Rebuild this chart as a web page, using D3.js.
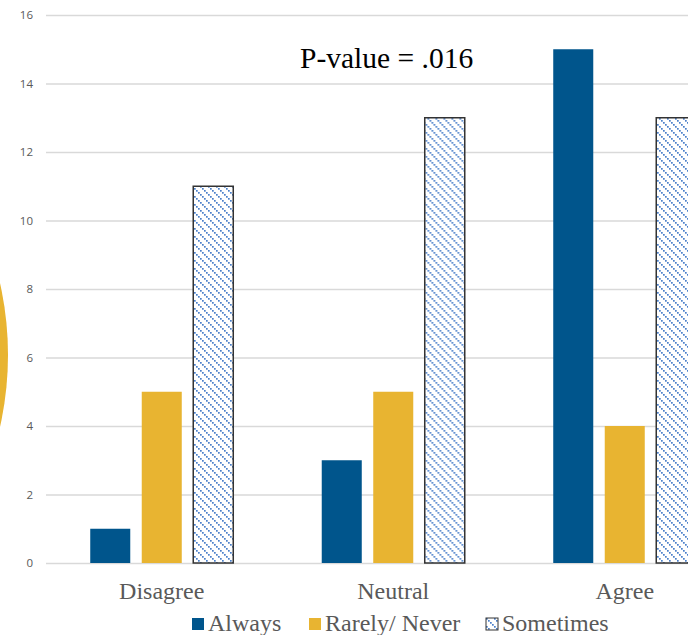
<!DOCTYPE html>
<html>
<head>
<meta charset="utf-8">
<title>Chart</title>
<script src="https://cdn.jsdelivr.net/npm/d3@7/dist/d3.min.js"></script>
<style>
  body { margin: 0; background: #fff; }
  svg { display: block; }
</style>
</head>
<body>
<script>
// data
var categories = ['Disagree', 'Neutral', 'Agree'];
var seriesNames = ['Always', 'Rarely/ Never', 'Sometimes'];
var always = [1, 3, 15];
var rarely = [5, 5, 4];
var sometimes = [11, 13, 13];
var yTicks = [0, 2, 4, 6, 8, 10, 12, 14, 16];
var pValueText = 'P-value = .016';

var width = 688, height = 635;
var colors = { 'Always': '#00558c', 'Rarely/ Never': '#e8b431', 'Sometimes': 'url(#hatch)' };

var rows = categories.map(function(c, i) {
    return { cat: c, values: [
        { s: 'Always', v: always[i] },
        { s: 'Rarely/ Never', v: rarely[i] },
        { s: 'Sometimes', v: sometimes[i] }
    ] };
});

var svg = d3.select('body').append('svg')
    .attr('width', width)
    .attr('height', height);

// hatch pattern for "Sometimes" (dotted downward diagonals)
var defs = svg.append('defs');
var pat = defs.append('pattern')
    .attr('id', 'hatch')
    .attr('patternUnits', 'userSpaceOnUse')
    .attr('width', 8).attr('height', 8);
pat.append('rect').attr('width', 8).attr('height', 8).attr('fill', '#fff');
[0, 2, 4, 6].forEach(function(o) {
    pat.append('rect').attr('x', o).attr('y', o)
        .attr('width', 1.7).attr('height', 1.7).attr('fill', '#4a7fca');
});

// decorative circle on the left edge
svg.append('circle')
    .attr('cx', -320).attr('cy', 355).attr('r', 328)
    .attr('fill', '#e8b431');

// scales
var x0 = d3.scaleBand().domain(categories).range([46, 46 + 3 * 231.5]);
var x1 = d3.scaleBand().domain(seriesNames).range([0, x0.bandwidth()])
    .paddingInner(0.223).paddingOuter(0.859);
var y = d3.scaleLinear().domain([0, 16]).range([563, 15]);

// gridlines
svg.append('g').selectAll('line')
    .data(yTicks)
    .enter().append('line')
    .attr('x1', 46).attr('x2', width)
    .attr('y1', function(d) { return y(d) + 0.5; })
    .attr('y2', function(d) { return y(d) + 0.5; })
    .attr('stroke', '#d9d9d9')
    .attr('stroke-width', 1.3);

// y axis labels
var yAxis = svg.append('g')
    .attr('transform', 'translate(33,0)')
    .call(d3.axisLeft(y).tickValues(yTicks).tickSize(0).tickPadding(0));
yAxis.select('.domain').remove();
yAxis.selectAll('text')
    .attr('font-family', '"Open Sans", "DejaVu Sans", sans-serif')
    .attr('font-size', '11.5px')
    .attr('fill', '#595959');

// bars
var groups = svg.append('g').selectAll('g')
    .data(rows)
    .enter().append('g')
    .attr('transform', function(d) { return 'translate(' + x0(d.cat) + ',0)'; });

groups.selectAll('rect')
    .data(function(d) { return d.values; })
    .enter().append('rect')
    .attr('x', function(d) { return x1(d.s); })
    .attr('y', function(d) { return y(d.v); })
    .attr('width', x1.bandwidth())
    .attr('height', function(d) { return y(0) - y(d.v); })
    .attr('fill', function(d) { return colors[d.s]; })
    .attr('stroke', function(d) { return d.s === 'Sometimes' ? '#333' : null; })
    .attr('stroke-width', 1.5);

// category labels
svg.append('g').selectAll('text')
    .data(categories)
    .enter().append('text')
    .attr('x', function(d) { return x0(d) + x0.bandwidth() / 2; })
    .attr('y', 599)
    .attr('text-anchor', 'middle')
    .attr('font-family', '"Liberation Serif", "Times New Roman", serif')
    .attr('font-size', '24px')
    .attr('fill', '#595959')
    .text(function(d) { return d; });

// p-value annotation
svg.append('text')
    .attr('x', 300).attr('y', 68)
    .attr('font-family', '"Liberation Serif", "Times New Roman", serif')
    .attr('font-size', '29.5px')
    .attr('fill', '#000')
    .text(pValueText);

// legend
var legendX = [192, 309, 486];
var legend = svg.append('g').selectAll('g')
    .data(seriesNames)
    .enter().append('g')
    .attr('transform', function(d, i) { return 'translate(' + legendX[i] + ',618)'; });
legend.append('rect')
    .attr('width', 12).attr('height', 12)
    .attr('fill', function(d) { return colors[d]; })
    .attr('stroke', function(d) { return d === 'Sometimes' ? '#333' : null; })
    .attr('stroke-width', 1);
legend.append('text')
    .attr('x', 16).attr('y', 13)
    .attr('font-family', '"Liberation Serif", "Times New Roman", serif')
    .attr('font-size', '24px')
    .attr('fill', '#595959')
    .text(function(d) { return d; });
</script>
</body>
</html>
